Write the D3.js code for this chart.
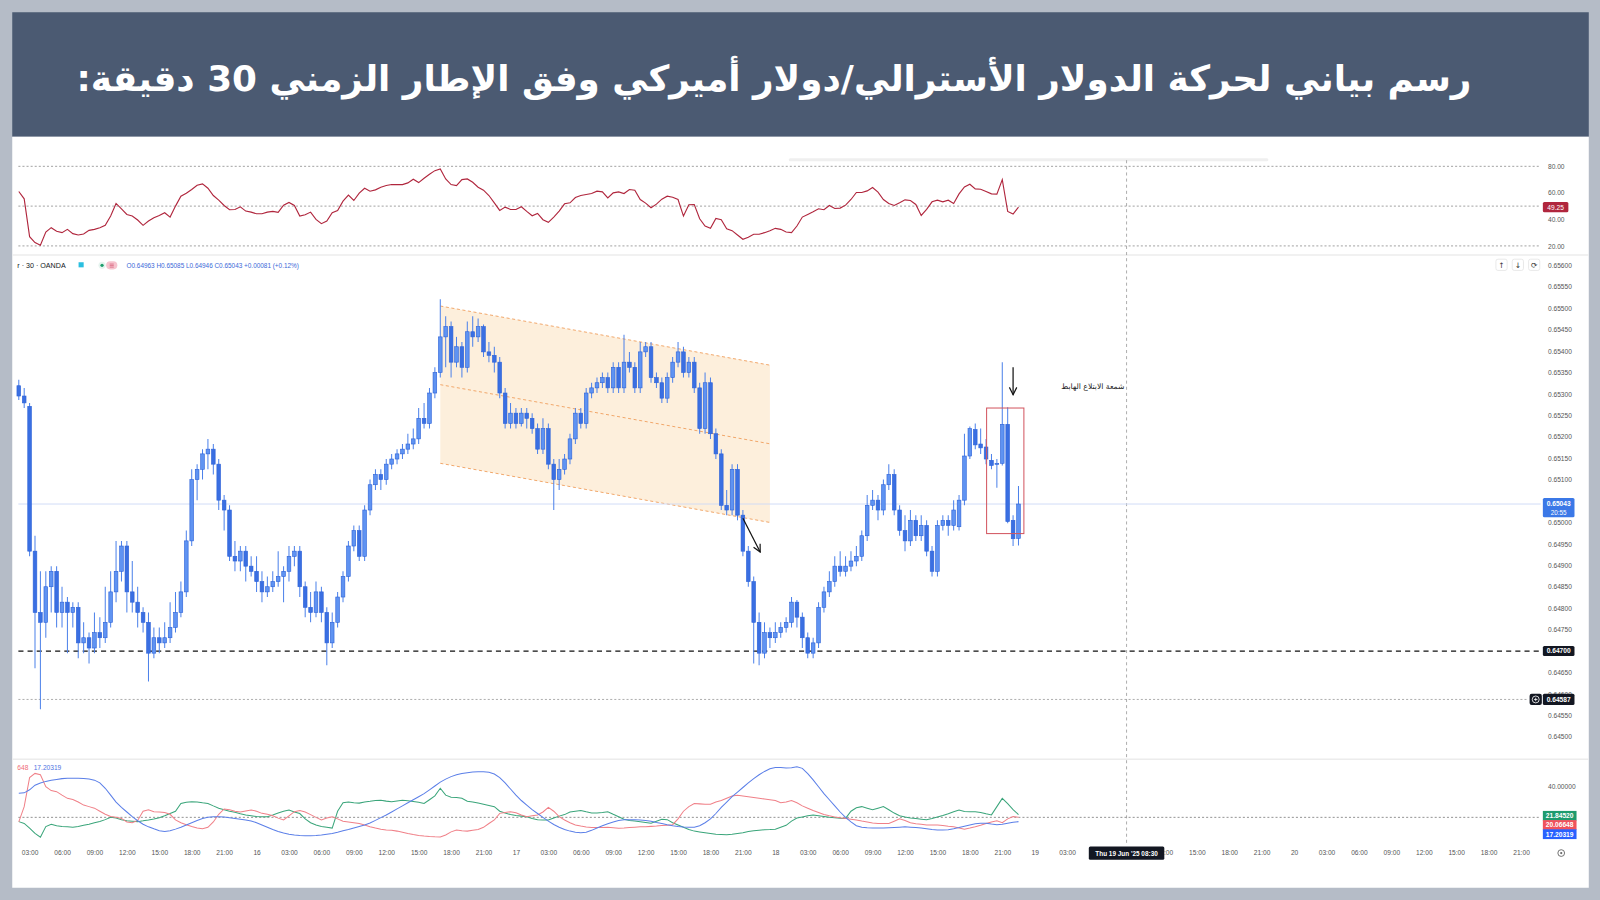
<!DOCTYPE html>
<html><head><meta charset="utf-8">
<script src="https://cdn.jsdelivr.net/npm/d3@7/dist/d3.min.js"></script>
<style>html,body{margin:0;padding:0;background:#b5bcc7;overflow:hidden}</style>
</head><body>
<svg id="c" width="1600" height="900" viewBox="0 0 1568 882"></svg>
<script>
// ---------------- DATA ----------------
const titleText = "رسم بياني لحركة الدولار الأسترالي/دولار أميركي وفق الإطار الزمني 30 دقيقة:";
const noteText = "شمعة الابتلاع الهابط";
const firstCandleTime = "2025-06-15T02:00:00Z"; // 30-minute candles
const open = [
0.65319,0.65295,0.65271,0.64933,0.64790,0.64767,0.64850,0.64886,0.64790,0.64814,
0.64790,0.64802,0.64719,0.64731,0.64707,0.64743,0.64731,0.64767,0.64838,0.64886,
0.64945,0.64838,0.64814,0.64790,0.64767,0.64695,0.64731,0.64719,0.64731,0.64755,
0.64790,0.64838,0.64957,0.65100,0.65124,0.65160,0.65171,0.65136,0.65052,0.65029,
0.64921,0.64910,0.64933,0.64898,0.64886,0.64862,0.64838,0.64850,0.64862,0.64874,
0.64886,0.64921,0.64933,0.64850,0.64802,0.64790,0.64838,0.64790,0.64719,0.64767,
0.64826,0.64874,0.64945,0.64981,0.64921,0.65029,0.65088,0.65112,0.65100,0.65136,
0.65148,0.65160,0.65171,0.65183,0.65195,0.65243,0.65231,0.65302,0.65350,0.65433,
0.65457,0.65374,0.65410,0.65362,0.65445,0.65433,0.65457,0.65398,0.65390,0.65374,
0.65302,0.65231,0.65255,0.65231,0.65255,0.65243,0.65219,0.65171,0.65219,0.65136,
0.65100,0.65124,0.65148,0.65195,0.65255,0.65231,0.65302,0.65314,0.65326,0.65338,
0.65314,0.65362,0.65314,0.65374,0.65362,0.65314,0.65398,0.65410,0.65338,0.65326,
0.65290,0.65338,0.65374,0.65398,0.65350,0.65374,0.65314,0.65219,0.65326,0.65207,
0.65160,0.65040,0.65029,0.65124,0.65017,0.64933,0.64862,0.64767,0.64695,0.64743,
0.64731,0.64743,0.64755,0.64767,0.64814,0.64779,0.64731,0.64695,0.64719,0.64802,
0.64838,0.64862,0.64898,0.64886,0.64898,0.64910,0.64921,0.64969,0.65040,0.65052,
0.65029,0.65088,0.65112,0.65029,0.64981,0.64957,0.65005,0.64969,0.64993,0.64933,
0.64886,0.64993,0.65005,0.64993,0.64990,0.65052,0.65155,0.65217,0.65183,0.65176,
0.65145,0.65136,0.65138,0.65229,0.65005,0.64963];
const high = [
0.65333,0.65314,0.65279,0.64969,0.64886,0.64886,0.64898,0.64898,0.64850,0.64826,
0.64814,0.64814,0.64767,0.64743,0.64790,0.64779,0.64850,0.64886,0.64957,0.64957,
0.64957,0.64910,0.64850,0.64802,0.64790,0.64755,0.64755,0.64767,0.64814,0.64838,
0.64862,0.64981,0.65124,0.65136,0.65171,0.65195,0.65183,0.65148,0.65064,0.65040,
0.64957,0.64945,0.64945,0.64921,0.64921,0.64886,0.64874,0.64886,0.64933,0.64898,
0.64945,0.64945,0.64945,0.64862,0.64838,0.64862,0.64850,0.64802,0.64790,0.64838,
0.64886,0.64957,0.64993,0.64993,0.65040,0.65100,0.65124,0.65124,0.65148,0.65160,
0.65171,0.65183,0.65207,0.65219,0.65267,0.65279,0.65314,0.65362,0.65521,0.65481,
0.65469,0.65433,0.65421,0.65469,0.65481,0.65476,0.65462,0.65421,0.65410,0.65386,
0.65314,0.65279,0.65267,0.65267,0.65267,0.65255,0.65231,0.65243,0.65231,0.65148,
0.65148,0.65160,0.65207,0.65267,0.65267,0.65314,0.65326,0.65338,0.65350,0.65350,
0.65374,0.65374,0.65438,0.65398,0.65374,0.65421,0.65421,0.65421,0.65350,0.65338,
0.65350,0.65386,0.65421,0.65410,0.65386,0.65386,0.65326,0.65350,0.65338,0.65219,
0.65171,0.65076,0.65136,0.65136,0.65029,0.64945,0.64874,0.64790,0.64767,0.64755,
0.64767,0.64767,0.64779,0.64826,0.64819,0.64790,0.64743,0.64731,0.64814,0.64850,
0.64886,0.64921,0.64933,0.64921,0.64933,0.64945,0.64981,0.65064,0.65076,0.65064,
0.65100,0.65136,0.65124,0.65040,0.65017,0.65029,0.65017,0.65017,0.65005,0.64945,
0.65005,0.65017,0.65017,0.65052,0.65064,0.65207,0.65224,0.65231,0.65219,0.65195,
0.65160,0.65148,0.65374,0.65269,0.65017,0.65085];
const low = [
0.65286,0.65267,0.64921,0.64660,0.64564,0.64731,0.64790,0.64755,0.64755,0.64695,
0.64755,0.64683,0.64695,0.64671,0.64695,0.64707,0.64719,0.64755,0.64814,0.64862,
0.64790,0.64790,0.64755,0.64743,0.64629,0.64683,0.64695,0.64707,0.64719,0.64743,
0.64779,0.64826,0.64945,0.65052,0.65100,0.65124,0.65112,0.65029,0.64981,0.64910,
0.64886,0.64886,0.64862,0.64874,0.64838,0.64814,0.64826,0.64838,0.64850,0.64814,
0.64862,0.64898,0.64826,0.64779,0.64767,0.64779,0.64767,0.64667,0.64707,0.64755,
0.64814,0.64862,0.64933,0.64910,0.64910,0.65017,0.65076,0.65076,0.65088,0.65124,
0.65136,0.65148,0.65160,0.65171,0.65183,0.65219,0.65219,0.65290,0.65338,0.65362,
0.65338,0.65362,0.65338,0.65350,0.65410,0.65421,0.65386,0.65374,0.65350,0.65290,
0.65219,0.65219,0.65219,0.65224,0.65219,0.65207,0.65160,0.65160,0.65124,0.65029,
0.65076,0.65112,0.65136,0.65183,0.65219,0.65219,0.65290,0.65302,0.65314,0.65302,
0.65302,0.65302,0.65302,0.65350,0.65302,0.65302,0.65386,0.65326,0.65314,0.65279,
0.65279,0.65326,0.65362,0.65338,0.65338,0.65302,0.65207,0.65207,0.65195,0.65148,
0.65029,0.65017,0.65017,0.65005,0.64921,0.64850,0.64671,0.64667,0.64683,0.64707,
0.64719,0.64731,0.64743,0.64755,0.64755,0.64707,0.64683,0.64683,0.64707,0.64790,
0.64826,0.64850,0.64874,0.64874,0.64886,0.64898,0.64910,0.64957,0.65029,0.65005,
0.65017,0.65076,0.65017,0.64969,0.64933,0.64945,0.64957,0.64957,0.64921,0.64874,
0.64874,0.64981,0.64969,0.64981,0.64981,0.65040,0.65148,0.65171,0.65160,0.65136,
0.65124,0.65081,0.65133,0.64998,0.64945,0.64946];
const close = [
0.65295,0.65279,0.64933,0.64790,0.64767,0.64850,0.64886,0.64790,0.64814,0.64790,
0.64802,0.64719,0.64731,0.64707,0.64743,0.64731,0.64767,0.64838,0.64886,0.64945,
0.64838,0.64814,0.64790,0.64767,0.64695,0.64731,0.64719,0.64731,0.64755,0.64790,
0.64838,0.64957,0.65100,0.65124,0.65160,0.65171,0.65136,0.65052,0.65029,0.64921,
0.64910,0.64933,0.64898,0.64886,0.64862,0.64838,0.64850,0.64862,0.64874,0.64886,
0.64921,0.64933,0.64850,0.64802,0.64790,0.64838,0.64790,0.64719,0.64767,0.64826,
0.64874,0.64945,0.64981,0.64921,0.65029,0.65088,0.65112,0.65100,0.65136,0.65148,
0.65160,0.65171,0.65183,0.65195,0.65243,0.65231,0.65302,0.65350,0.65433,0.65457,
0.65374,0.65410,0.65362,0.65445,0.65433,0.65457,0.65398,0.65390,0.65374,0.65302,
0.65231,0.65255,0.65231,0.65255,0.65243,0.65219,0.65171,0.65219,0.65136,0.65100,
0.65124,0.65148,0.65195,0.65255,0.65231,0.65302,0.65314,0.65326,0.65338,0.65314,
0.65362,0.65314,0.65374,0.65362,0.65314,0.65398,0.65410,0.65338,0.65326,0.65290,
0.65338,0.65374,0.65398,0.65350,0.65374,0.65314,0.65219,0.65326,0.65207,0.65160,
0.65040,0.65029,0.65124,0.65017,0.64933,0.64862,0.64767,0.64695,0.64743,0.64731,
0.64743,0.64755,0.64767,0.64814,0.64779,0.64731,0.64695,0.64719,0.64802,0.64838,
0.64862,0.64898,0.64886,0.64898,0.64910,0.64921,0.64969,0.65040,0.65052,0.65029,
0.65088,0.65112,0.65029,0.64981,0.64957,0.65005,0.64969,0.64993,0.64933,0.64886,
0.64993,0.65005,0.64993,0.65029,0.65052,0.65155,0.65219,0.65181,0.65174,0.65148,
0.65133,0.65138,0.65229,0.65002,0.64962,0.65043];
const rsi = [
61,55.5,27,22.5,20.5,30.5,33.75,31,30,32.5,29.25,28.25,29,31.75,32.5,33.75,35.5,42.5,52,48,
43.75,42.5,39.5,35.5,38.75,41.25,43,45,41.75,50,
57.5,59.75,62.5,65.75,66.75,63.5,58,54.5,50.5,47.25,
47.5,49.5,46.25,45.5,44.25,44.25,45.5,46,45.25,50.75,
52.75,50.5,42.5,43.5,45.5,40,36.75,38.75,45,46.75,
53.75,58.25,54.25,59.75,63.5,61.25,62.25,64.25,65.5,66.25,
66.25,66.25,67.5,70.25,67.75,71,74,76.75,78,70.5,
66.25,65.5,70,70.5,68,64.25,62,58,52.5,46.75,
49.25,47.5,47.5,49.5,46,42.75,44.5,39.75,37.75,41.75,
46.25,51.75,52.5,56.5,58,58.75,59.5,61.25,60.75,56.25,
60,60.75,59.5,62.5,62,55,52.25,48.75,51.5,55.25,
57.5,56.75,55,42.5,51,51.25,40.5,35,33.25,40.75,
39.75,33,31.5,28.25,25,26.5,28.75,28.75,30,31.5,
33.25,32.5,30.5,30,35,41.75,43.75,45.75,48,47.25,
50.5,48.25,48.5,50.75,55,60.25,60.25,61.5,64,60.5,
55,52,50.5,52.5,54.75,54.25,51.25,43,47.5,53.25,
54.5,53.25,54.5,52,59.25,64.5,66.5,63,62.75,61,
59.25,59,70,46,44,49.25];
const adx = [
35.7,36,38,41,42.5,43.5,44.2,44.8,45.3,45.5,
45.6,45.6,45.4,45,44.3,42.5,39,34.5,30,26.5,
23.5,20.5,17.8,15.5,13.8,12.5,11.3,10.8,11.2,12.3,
13.5,15,16.5,18,19.2,20,20.4,20.4,20.2,19.8,
19.3,18.8,18.3,17.6,16.5,15,13.5,12,10.8,9.8,
9,8.5,8.2,8,8,8.2,8.5,9,9.5,10.3,
11.2,12,13,14,15,16.3,18,19.8,21.5,23.5,
25.5,27.5,29.5,31.5,33.5,35.5,38,40.5,43,45,
46.6,47.8,48.7,49.2,49.6,49.8,49.8,49.4,48.3,46,
42.5,38.5,34.5,31,28,25,22.5,20,17.5,15.3,
13.5,12,11,10.3,10,10.3,11.5,13,14.5,15.8,
17,18,18.5,18.5,18.5,18.3,18,17.5,16.7,16,
15.2,14.5,14,13.7,13.5,13.6,14.5,16.5,19,22.5,
26.5,30,33.5,36.5,39.5,42.5,45.3,47.8,50,51.8,
52.5,52.5,52.3,52.4,53,52,48.5,44.5,40,35.5,
31.5,27.5,23.5,20,17,14.5,13.5,13.2,13,13,
13,13.2,13.4,13.6,13.8,13.6,13.3,13,12.5,12,
11.8,11.7,11.9,12.5,13.3,14.2,15,15.8,16.1,16.1,
15.6,15.2,15.5,16.2,16.8,17.20319];
const diMinus = [
17,27,46,48.7,47.8,40,37.5,36.8,34.5,32.4,
31.6,30,28,27,26,24,22,20.5,20,19.3,
17,16.5,18,24,25,23.7,23.5,23.2,22,18.3,
16.5,15.2,14,13,12.5,13.5,17,22,25.5,25,
24,23.5,24.2,24.8,24,22.6,22,21,19.5,18.3,
21,23.7,24.5,23.5,21.8,20,18.3,19.5,20.4,19,
17.5,17,16.5,16,15,13.8,13,12.3,11.8,11.5,
11,10.3,9.5,8.8,8.2,7.8,7.5,7.3,7.2,8.5,
10.5,11.7,11.3,11,11.5,12,13.5,16,18.3,22.6,
23.2,23.7,23,21.5,20.4,21,21.5,23.5,26.5,24,
20.5,18.3,16.5,15,14.3,13.7,13.4,13.4,13.4,13.5,
13.2,12.9,13,13.3,13.6,13.8,13.9,14.1,14.3,14.6,
14.8,15.2,19,24,27,29,28.8,28.5,28.5,30,
31,32.5,34,34.5,34,33.5,33,32.5,32,31.5,
31,29.5,30,31,29.5,27.5,26,24.5,23.2,21.8,
21,20.3,19.7,19.3,18.8,18.3,17.6,17,16.3,16,
16,16,17.5,19,18,16.5,15.8,15.5,15,15,
15,14.6,14.2,13.9,13,12.3,13,13.8,14.8,16,
17,17.8,16.5,19,20.5,20.06648];
const diPlus = [
17.2,16,13,9.5,7,14,15.5,14.5,14,13.8,
13.5,14,14.8,15.5,16.5,17.3,18.5,20,19.5,18.5,
17.8,17.5,17.2,17.7,18.3,19,19.8,21,22.5,24,
29,29.8,30.2,30,29.5,29.1,27.5,26,25,24,
23.3,22.3,21.5,21,20.5,20.4,20.4,21.5,22.8,24,
24.8,23.5,22.5,19,16.5,15,14,13.5,13,24,
29.5,30,29.5,29.3,30.1,30.5,31,31.2,30.6,30.2,
30.7,31.2,30.9,30.4,29.8,29.1,31.5,34,39,34.5,
33.2,33,32.5,30.5,30,29.3,28.6,27.8,27,24,
22.8,21.8,21.2,20.8,20.4,19.3,18.4,18.3,18.3,19.6,
20.8,21.8,23.5,24,24.4,23.6,22.9,22.8,23.2,23.7,
22,20.4,18.8,18,17.6,17.2,16.7,16.2,17.5,18.8,
18.5,16.5,15,13.5,12,11,10.5,10,9.5,9,
8.8,8.6,9,9.5,10,10.8,11.3,11.6,11.9,12,
12.2,13.5,14.8,17.5,19.6,20.3,21,21.5,21,20.5,
20,19.7,19.4,19.3,24,26.3,27,26,25,26,
27,25,22.8,21,20.2,19.6,19.2,18.8,18.4,19.2,
20.2,21.2,22.4,23.7,24.8,23.8,23.7,23.7,23.2,22.3,
21.6,27,32.4,29,25,21.84520];
const priceTicks = [0.6450,0.6455,0.6460,0.6465,0.6470,0.6475,0.6480,0.6485,0.6490,0.6495,0.6500,
  0.6505,0.6510,0.6515,0.6520,0.6525,0.6530,0.6535,0.6540,0.6545,0.6550,0.6555,0.6560];
const rsiTicks = [20,40,60,80];
const rsiLevels = [20,50,80];
const dmiTicks = [40];
const dmiLevel = 20;
const xTickLabels = ["03:00","06:00","09:00","12:00","15:00","18:00","21:00",
 "16","03:00","06:00","09:00","12:00","15:00","18:00","21:00",
 "17","03:00","06:00","09:00","12:00","15:00","18:00","21:00",
 "18","03:00","06:00","09:00","12:00","15:00","18:00","21:00",
 "19","03:00","06:00","09:00","12:00","15:00","18:00","21:00",
 "20","03:00","06:00","09:00","12:00","15:00","18:00","21:00"];
const supportPrice = 0.64700;
const lowMarkPrice = 0.64587;
const lastPrice = 0.65043;
const lastRsi = 49.25;
const channelTimes = ["2025-06-16T17:00:00Z","2025-06-17T23:30:00Z"];
const channelTop = [0.65505, 0.65367];
const channelBottom = [0.65138, 0.65000];
const boxTimes = ["2025-06-18T19:33:00Z","2025-06-18T23:00:00Z"];
const boxPrices = [0.65267, 0.64974];
const arrow1Times = ["2025-06-17T21:00:00Z","2025-06-17T22:36:00Z"];
const arrow1Prices = [0.65010, 0.64931];
const arrow2Times = ["2025-06-18T22:00:00Z","2025-06-18T22:00:00Z"];
const arrow2Prices = [0.65362, 0.65298];
const noteTime = "2025-06-19T08:18:00Z";
const notePrice = 0.65319;
const crossTime = "2025-06-19T08:30:00Z";
const crossLabel = "Thu 19 Jun '25   08:30";
const legendText = "r · 30 · OANDA";
const ohlcText = "O0.64963 H0.65085 L0.64946 C0.65043 +0.00081 (+0.12%)";

// ---------------- DRAW ----------------
const W = 1568, H = 882;
const svg = d3.select("#c");
const FONT = "'Liberation Sans', Arial, sans-serif";
const HALF = 30 * 60 * 1000;
const t0 = Date.UTC(2025, 5, 15, 0, 0);
const c0 = Date.parse(firstCandleTime);
const times = close.map((d, k) => new Date(c0 + k * HALF));
const step = 5.2957;
const x = d3.scaleUtc().domain([new Date(t0), new Date(t0 + 288 * HALF)]).range([-2.77, -2.77 + 288 * step]);
const y = d3.scaleLinear().domain([0.6450, 0.6560]).range([722, 260]);
const yR = d3.scaleLinear().domain([20, 80]).range([241, 163]);
const yD = d3.scaleLinear().domain([0, 40]).range([831, 771]);
const plotL = 15, plotR = 1510;

// frame
svg.append("rect").attr("width", W).attr("height", H).attr("fill", "#b5bcc7");
svg.append("rect").attr("x", 12).attr("y", 12).attr("width", 1545).attr("height", 122).attr("fill", "#4b5a72");
svg.append("rect").attr("x", 12).attr("y", 134).attr("width", 1545).attr("height", 736).attr("fill", "#ffffff");

// title (right-to-left)
const title = svg.append("text").attr("x", 1442).attr("y", 89).attr("direction", "rtl").attr("text-anchor", "start")
  .attr("fill", "#ffffff").attr("font-family", "'DejaVu Sans', sans-serif").attr("font-weight", "bold").attr("font-size", 40)
  .text(titleText);
const tl = title.node().getComputedTextLength();
title.attr("font-size", Math.min(48, 40 * 1367 / tl));

// defs
const defs = svg.append("defs");
defs.append("clipPath").attr("id", "plot").append("rect").attr("x", plotL).attr("y", 140).attr("width", plotR - plotL).attr("height", 700);
defs.append("marker").attr("id", "arr").attr("viewBox", "0 0 10 10").attr("refX", 9).attr("refY", 5)
  .attr("markerWidth", 9).attr("markerHeight", 9).attr("orient", "auto").attr("markerUnits", "userSpaceOnUse")
  .append("path").attr("d", "M1,1 L9,5 L1,9").attr("fill", "none").attr("stroke", "#111").attr("stroke-width", 1.3);

// scrollbar hint
svg.append("rect").attr("x", 773).attr("y", 155).attr("width", 470).attr("height", 3).attr("rx", 1.5).attr("fill", "#efefef");

// separators
[250, 744].forEach(v => svg.append("line").attr("x1", 12).attr("x2", 1557).attr("y1", v).attr("y2", v).attr("stroke", "#ececec").attr("stroke-width", 1.5));

// crosshair
svg.append("line").attr("x1", x(new Date(crossTime))).attr("x2", x(new Date(crossTime)))
  .attr("y1", 157).attr("y2", 829).attr("stroke", "#9a9a9a").attr("stroke-dasharray", "3,3").attr("stroke-width", 0.8);

// ---- RSI panel ----
const gR = svg.append("g");
gR.selectAll("line.lv").data(rsiLevels).join("line").attr("x1", 18).attr("x2", 1508)
  .attr("y1", d => yR(d)).attr("y2", d => yR(d)).attr("stroke", "#9a9a9a").attr("stroke-dasharray", "2,2").attr("stroke-width", 0.9);
const axR = d3.axisRight(yR).tickValues(rsiTicks).tickFormat(d3.format(".2f")).tickSize(0).tickPadding(0);
gR.append("g").attr("transform", "translate(1517,0)").call(axR)
  .call(g => g.select(".domain").remove())
  .call(g => g.selectAll("text").attr("font-size", 6.5).attr("fill", "#555").attr("font-family", FONT));
gR.append("path").datum(rsi).attr("clip-path", "url(#plot)")
  .attr("d", d3.line().x((d, k) => x(times[k])).y(d => yR(d)))
  .attr("fill", "none").attr("stroke", "#b0263d").attr("stroke-width", 1.1);
gR.append("rect").attr("x", 1512).attr("y", yR(lastRsi) - 5).attr("width", 25).attr("height", 10).attr("rx", 1.5).attr("fill", "#b0263d");
gR.append("text").attr("x", 1524.5).attr("y", yR(lastRsi) + 2.4).attr("text-anchor", "middle").attr("font-size", 6.5)
  .attr("fill", "#fff").attr("font-family", FONT).text(lastRsi.toFixed(2));

// ---- main panel ----
const gM = svg.append("g");
const axM = d3.axisRight(y).tickValues(priceTicks).tickFormat(d3.format(".5f")).tickSize(0).tickPadding(0);
gM.append("g").attr("transform", "translate(1517,0)").call(axM)
  .call(g => g.select(".domain").remove())
  .call(g => g.selectAll("text").attr("font-size", 6.5).attr("fill", "#555").attr("font-family", FONT));

const gP = gM.append("g").attr("clip-path", "url(#plot)");
// channel
const cx0 = x(new Date(channelTimes[0])), cx1 = x(new Date(channelTimes[1]));
gP.append("path").attr("d", `M${cx0},${y(channelTop[0])}L${cx1},${y(channelTop[1])}L${cx1},${y(channelBottom[1])}L${cx0},${y(channelBottom[0])}Z`)
  .attr("fill", "#fdecd6").attr("opacity", 0.85);
const chLines = [[channelTop[0], channelTop[1]], [(channelTop[0] + channelBottom[0]) / 2, (channelTop[1] + channelBottom[1]) / 2], [channelBottom[0], channelBottom[1]]];
gP.selectAll("line.ch").data(chLines).join("line").attr("x1", cx0).attr("x2", cx1)
  .attr("y1", d => y(d[0])).attr("y2", d => y(d[1])).attr("stroke", "#f0a060").attr("stroke-width", 0.9).attr("stroke-dasharray", "3,2.5");

// horizontal levels
gP.append("line").attr("x1", 18).attr("x2", plotR).attr("y1", y(lastPrice)).attr("y2", y(lastPrice)).attr("stroke", "#cdd9f6").attr("stroke-width", 0.9);
gP.append("line").attr("x1", 18).attr("x2", plotR).attr("y1", y(supportPrice)).attr("y2", y(supportPrice)).attr("stroke", "#111").attr("stroke-width", 1.2).attr("stroke-dasharray", "5,4");
gP.append("line").attr("x1", 18).attr("x2", 1498).attr("y1", y(lowMarkPrice)).attr("y2", y(lowMarkPrice)).attr("stroke", "#9a9a9a").attr("stroke-width", 0.8).attr("stroke-dasharray", "2,2");

// candles
const bw = 3.6;
const cg = gP.append("g");
cg.selectAll("line.w").data(close).join("line")
  .attr("x1", (d, k) => x(times[k])).attr("x2", (d, k) => x(times[k]))
  .attr("y1", (d, k) => y(high[k])).attr("y2", (d, k) => y(low[k]))
  .attr("stroke", "#4d82ea").attr("stroke-width", 1);
cg.selectAll("rect.b").data(close).join("rect")
  .attr("x", (d, k) => x(times[k]) - bw / 2).attr("width", bw)
  .attr("y", (d, k) => y(Math.max(open[k], d)))
  .attr("height", (d, k) => Math.max(1, Math.abs(y(open[k]) - y(d))))
  .attr("fill", (d, k) => d >= open[k] ? "#5f93f2" : "#3a6fe2")
  .attr("stroke", "#2d62d8").attr("stroke-width", 0.6);

// engulfing box
const bx0 = x(new Date(boxTimes[0])), bx1 = x(new Date(boxTimes[1]));
gP.append("rect").attr("x", bx0).attr("y", y(boxPrices[0])).attr("width", bx1 - bx0).attr("height", y(boxPrices[1]) - y(boxPrices[0]))
  .attr("fill", "none").attr("stroke", "#d2555f").attr("stroke-width", 1);

// arrows
[[arrow1Times, arrow1Prices], [arrow2Times, arrow2Prices]].forEach(([tt, pp]) => {
  gP.append("line").attr("x1", x(new Date(tt[0]))).attr("y1", y(pp[0])).attr("x2", x(new Date(tt[1]))).attr("y2", y(pp[1]))
    .attr("stroke", "#111").attr("stroke-width", 1.2).attr("marker-end", "url(#arr)");
});
// note
gP.append("text").attr("x", x(new Date(noteTime))).attr("y", y(notePrice) + 3).attr("direction", "rtl").attr("text-anchor", "start")
  .attr("font-family", "'DejaVu Sans', sans-serif").attr("font-size", 7.5).attr("fill", "#222").text(noteText);

// price labels on axis
function tag(yv, txt, bg, w, h) {
  gM.append("rect").attr("x", 1512).attr("y", yv - h / 2).attr("width", w).attr("height", h).attr("rx", 1.5).attr("fill", bg);
  gM.append("text").attr("x", 1512 + w / 2).attr("y", yv + 2.4).attr("text-anchor", "middle").attr("font-size", 6.5)
    .attr("font-family", FONT).attr("fill", "#fff").attr("font-weight", "bold").text(txt);
}
gM.append("rect").attr("x", 1512).attr("y", y(lastPrice) - 6).attr("width", 31).attr("height", 19).attr("rx", 1.5).attr("fill", "#3b78e7");
gM.append("text").attr("x", 1527.5).attr("y", y(lastPrice) + 2.3).attr("text-anchor", "middle").attr("font-size", 6.5)
  .attr("font-family", FONT).attr("fill", "#fff").attr("font-weight", "bold").text(lastPrice.toFixed(5));
gM.append("text").attr("x", 1527.5).attr("y", y(lastPrice) + 10.5).attr("text-anchor", "middle").attr("font-size", 6.2)
  .attr("font-family", FONT).attr("fill", "#fff").text("20:55");
tag(y(supportPrice), supportPrice.toFixed(5), "#131722", 31, 10);
tag(y(lowMarkPrice), lowMarkPrice.toFixed(5), "#131722", 31, 11);
gM.append("rect").attr("x", 1499).attr("y", y(lowMarkPrice) - 5.5).attr("width", 12).attr("height", 11).attr("rx", 2).attr("fill", "#131722");
gM.append("circle").attr("cx", 1505).attr("cy", y(lowMarkPrice)).attr("r", 3.4).attr("fill", "none").attr("stroke", "#fff").attr("stroke-width", 0.8);
gM.append("path").attr("d", `M1503.3,${y(lowMarkPrice)}h3.4M1505,${y(lowMarkPrice) - 1.7}v3.4`).attr("stroke", "#fff").attr("stroke-width", 0.8);

// top-right mini buttons
["↑", "↓", "⟳"].forEach((s, k) => {
  const bxp = 1466 + k * 16;
  gM.append("rect").attr("x", bxp).attr("y", 254).attr("width", 11).attr("height", 11).attr("rx", 2)
    .attr("fill", "#fff").attr("stroke", "#e0e0e0").attr("stroke-width", 0.7);
  gM.append("text").attr("x", bxp + 5.5).attr("y", 262.3).attr("text-anchor", "middle").attr("font-size", 7.5)
    .attr("fill", "#333").attr("font-family", "'DejaVu Sans', sans-serif").text(s);
});

// legend
gM.append("text").attr("x", 17).attr("y", 262.5).attr("font-size", 7).attr("font-family", FONT).attr("fill", "#131722").text(legendText);
gM.append("rect").attr("x", 77).attr("y", 257).attr("width", 5).attr("height", 5).attr("fill", "#2bbfe0");
gM.append("circle").attr("cx", 100).attr("cy", 260).attr("r", 3.5).attr("fill", "#e6f4ef");
gM.append("circle").attr("cx", 100).attr("cy", 260).attr("r", 1.6).attr("fill", "#1f9d6c");
gM.append("rect").attr("x", 104).attr("y", 256).attr("width", 11).attr("height", 8).attr("rx", 4).attr("fill", "#f6c3ce");
gM.append("path").attr("d", "M107.5,258.8h4M107.5,260.3h4M107.5,261.8h4").attr("stroke", "#d14a68").attr("stroke-width", 0.6);
gM.append("text").attr("x", 124).attr("y", 262.3).attr("font-size", 6.3).attr("font-family", FONT).attr("fill", "#3a68d8").text(ohlcText);

// ---- DMI panel ----
const gD = svg.append("g");
gD.append("line").attr("x1", 18).attr("x2", 1508).attr("y1", yD(dmiLevel)).attr("y2", yD(dmiLevel))
  .attr("stroke", "#8a8a8a").attr("stroke-dasharray", "2,2").attr("stroke-width", 0.9);
const axD = d3.axisRight(yD).tickValues(dmiTicks).tickFormat(d3.format(".5f")).tickSize(0).tickPadding(0);
gD.append("g").attr("transform", "translate(1517,0)").call(axD)
  .call(g => g.select(".domain").remove())
  .call(g => g.selectAll("text").attr("font-size", 6.5).attr("fill", "#555").attr("font-family", FONT));
const dLine = d3.line().x((d, k) => x(times[k])).y(d => yD(d));
[[diPlus, "#3aa57a"], [diMinus, "#f08088"], [adx, "#5b7fe8"]].forEach(([ser, col]) => {
  gD.append("path").datum(ser).attr("clip-path", "url(#plot)").attr("d", dLine).attr("fill", "none").attr("stroke", col).attr("stroke-width", 1);
});
const lastPlus = diPlus[diPlus.length - 1], lastMinus = diMinus[diMinus.length - 1], lastAdx = adx[adx.length - 1];
function dtag(yv, txt, bg) {
  gD.append("rect").attr("x", 1512).attr("y", yv - 4.8).attr("width", 33).attr("height", 9.6).attr("fill", bg);
  gD.append("text").attr("x", 1528.5).attr("y", yv + 2.3).attr("text-anchor", "middle").attr("font-size", 6.5)
    .attr("font-family", FONT).attr("fill", "#fff").attr("font-weight", "bold").text(txt);
}
dtag(799.5, lastPlus.toFixed(5), "#1e9b6d");
dtag(808.5, lastMinus.toFixed(5), "#f0525c");
dtag(817.5, lastAdx.toFixed(5), "#2962ff");
gD.append("text").attr("x", 17).attr("y", 754.5).attr("font-size", 6.5).attr("font-family", FONT).attr("fill", "#f06d76").text("648");
gD.append("text").attr("x", 33).attr("y", 754.5).attr("font-size", 6.5).attr("font-family", FONT).attr("fill", "#4f73e3").text(lastAdx.toFixed(5));

// ---- time axis ----
const cxp = x(new Date(crossTime));
const xTicks = d3.utcHours(new Date(Date.UTC(2025, 5, 15, 3)), new Date(Date.UTC(2025, 5, 20, 22)), 3);
const axX = d3.axisBottom(x).tickValues(xTicks).tickFormat((d, k) => xTickLabels[k]).tickSize(0).tickPadding(0);
svg.append("g").attr("transform", "translate(0,833.5)").call(axX)
  .call(g => g.select(".domain").remove())
  .call(g => g.selectAll("text").attr("font-size", 6.5).attr("fill", "#555").attr("font-family", FONT))
  // labels hidden under the crosshair time label
  .call(g => g.selectAll(".tick").filter(d => Math.abs(x(d) - cxp) < 30).remove());
svg.append("rect").attr("x", cxp - 37).attr("y", 829.5).attr("width", 74).attr("height", 13).attr("rx", 1.5).attr("fill", "#131722");
svg.append("text").attr("x", cxp).attr("y", 838.5).attr("text-anchor", "middle").attr("font-size", 6.3)
  .attr("font-family", FONT).attr("fill", "#fff").attr("font-weight", "bold").text(crossLabel);
svg.append("circle").attr("cx", 1530).attr("cy", 836).attr("r", 3.3).attr("fill", "none").attr("stroke", "#666").attr("stroke-width", 0.9);
svg.append("circle").attr("cx", 1530).attr("cy", 836).attr("r", 1.1).attr("fill", "#666");
</script>
</body></html>
